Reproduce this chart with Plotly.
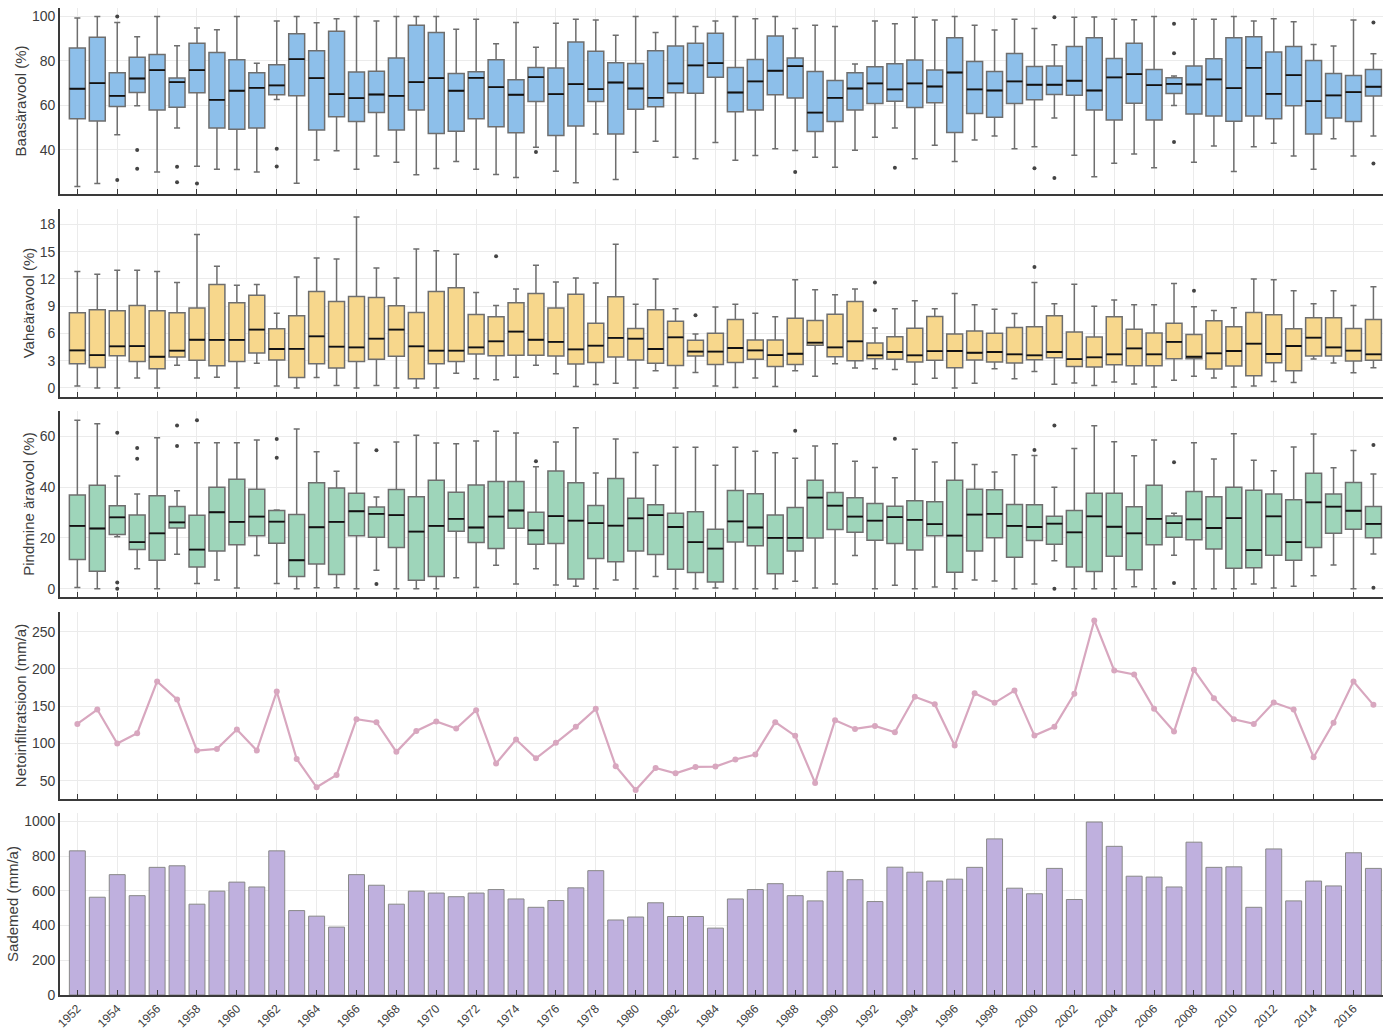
import plotly.graph_objects as go

years = list(range(1952, 2018))

# Panel 1: Baasäravool (%)
base_hi = [99.3,100,97.3,90.9,100,86.8,94.8,94,100,79,
           98,100,97.2,99,100,97.9,100,100,100,94.3,
           98.7,87.7,97.3,86.1,97,98.7,98.4,91.5,100,92.8,
           100,95.5,97.9,100,99,100,94.6,96,95.5,78.6,
           98,96.7,99.6,98.4,100,96,93.9,98.7,94.6,87.3,
           99.6,99.7,98.7,98.5,100,73.2,98.7,98.7,100,97.9,
           99,97.6,87.4,86.7,98.4,83.2]
base_q3 = [85.8,90.6,74.7,81.7,82.9,72.3,87.9,83.8,80.5,74.7,
           78.3,92.2,84.6,93.3,75,75.4,81.3,96,92.8,74.4,
           75.1,80.5,71.5,77.1,76.8,88.5,84.3,79.2,78.9,84.6,
           86.7,87.9,92.4,77.1,80.7,91.2,81.3,75.3,71.2,74.7,
           77.4,78.7,80.4,75.9,90.4,79.8,75.3,83.4,77.5,77.7,
           86.5,90.4,81.1,87.9,76.2,72.4,77.7,81,90.4,90.9,
           84,86.5,80.2,74.4,73.5,76.2]
base_med = [67.5,70,64.3,72.1,75.9,70.5,75.9,62.5,66.6,67.9,
            69,80.8,72.3,65.1,63.3,64.9,64.3,70.5,72.3,66.6,
            72.4,68.2,64.8,72.7,65.1,69.6,67.3,70.3,67.6,63.4,
            69.9,78,79,65.8,70.8,75.6,77.7,56.8,63.4,67.6,
            69.9,67.2,69.9,68.5,74.8,67.2,66.7,70.8,69.3,69.3,
            71.1,66.7,72.6,74.1,69.1,69.7,69.4,71.7,67.8,76.9,
            65.2,73.6,61.9,64.5,66,68.4]
base_q1 = [54,53,59.5,65.8,57.9,59.2,65.7,49.9,49.3,49.9,
           64.8,64.3,48.9,54.9,52.8,56.8,48.9,57.9,47.4,48.4,
           54,50.4,47.7,61.8,46.5,50.7,61.8,47.2,58.3,59.4,
           65.7,65.5,72.7,57.1,57.9,64.8,63.3,48.3,52.8,57.9,
           60.9,61.9,59.1,61.2,47.8,56.4,54.7,60.9,62.5,64.9,
           64.6,57.9,53.5,61,53.5,65.4,56.1,55.2,52.9,55.2,
           54,59.8,47.1,54.4,52.8,64.2]
base_lo = [23.5,24.9,46.8,59.8,30.1,49.8,32.7,31.3,31.2,30.1,
           62.7,25,35.5,39.6,31.3,37.3,34.5,28.8,31.6,34.8,
           31.3,28.9,27.6,41.2,30.4,25.2,47.1,26.7,39,43.9,
           36.7,36,43.3,35.4,37.5,40.5,39.7,36.7,32.2,39.9,
           45.7,49.8,36,42.1,34.8,44.4,46.2,40.5,41.4,54.4,
           37.6,27.9,34,38.2,32,60,34.5,41.8,30.3,41.4,
           43,37.3,31.3,45,37.3,46.2]
base_out_x = [1954,1954,1955,1955,1957,1957,1958,1962,1962,1975,1988,1993,2000,2001,2001,2007,2007,2007,2017,2017]
base_out_y = [100,26.5,40,31.5,32.4,25.5,24.9,40.5,32.5,39.1,30.1,32,31.8,99.6,27.4,96.7,83.5,43.5,97.3,33.9]

# Panel 2: Vaheäravool (%)
inter_hi = [12.8,12.5,12.95,12.95,12.8,11.6,16.9,13.4,11.3,11.37,
            8.23,12.2,14.3,14.2,18.8,13.2,12.1,15.3,15.1,14.7,
            10.5,9.08,10.9,13.5,11.66,12.1,11.55,15.8,9.2,12,
            8.7,5.94,8.9,9.2,8.23,7.82,11.9,10.8,10.26,10.9,
            6.6,8.7,9.6,8.7,10.4,9.15,8.67,8.19,11.6,9.26,
            11.4,9,9.67,9.15,9.15,11.5,8.93,8.52,8.82,12,
            11.9,10.7,9.26,10.7,9.08,11.14]
inter_q3 = [8.27,8.6,8.5,9.08,8.5,8.27,8.8,11.37,9.37,10.2,
            6.5,7.93,10.6,9.5,10.07,9.96,9.04,8.3,10.6,11.03,
            8.08,7.82,9.37,10.4,8.8,10.3,7.12,10.04,6.53,8.6,
            7.34,5.24,6.01,7.53,5.28,5.28,7.68,7.42,8.1,9.5,
            4.94,5.64,6.57,7.86,5.94,6.27,6.01,6.64,6.72,7.93,
            6.16,5.6,7.82,6.46,6.05,7.12,5.87,7.38,6.72,8.3,
            8.04,6.5,7.71,7.71,6.53,7.53]
inter_med = [4.13,3.6,4.58,4.6,3.43,4.1,5.3,5.28,5.28,6.42,
             4.28,4.3,5.68,4.54,4.46,5.42,6.42,4.58,4.1,4.1,
             4.46,5.13,6.2,5.3,5.06,4.24,4.65,5.5,5.42,4.28,
             5.57,4,4,4.39,4.13,3.6,3.76,4.98,4.46,5.13,
             3.58,3.95,3.58,4.04,4.06,3.87,3.95,3.69,3.58,3.95,
             3.17,3.36,3.69,4.35,3.69,5.06,3.43,3.8,4.06,4.87,
             3.73,4.61,5.53,4.46,4.1,3.69]
inter_q1 = [2.66,2.25,3.54,2.9,2.1,3.4,3.03,2.44,2.9,3.84,
            3.06,1.14,2.66,2.18,2.9,3.14,3.47,1,2.66,2.9,
            3.73,3.54,3.58,3.58,3.5,2.62,2.8,3.4,3.06,2.7,
            2.47,3.5,2.58,2.8,3.14,2.36,2.58,4.7,3.43,3,
            3.2,3.14,2.84,3.03,2.21,3.06,2.84,2.73,3.1,3.32,
            2.36,2.29,2.55,2.44,2.44,3.21,3.21,2.07,2.4,1.33,
            2.77,1.88,3.5,3.5,2.95,3.03]
inter_lo = [0.22,0,0,1.1,0,2.5,1.1,1.18,0,2.7,
            0.22,0,1.14,0.26,0,0.26,0,0,0,1.62,
            1,0.9,1.18,2.5,1.55,0.15,0.37,0.52,0,1.9,
            0,1.7,0.22,0.04,1.1,0.15,1.88,1.29,2.66,2.18,
            2.1,2.03,0.4,1.07,0,0.52,2.1,1,1.8,0.4,
            0.55,0.26,0.66,0.44,0.11,0.85,1.29,1.1,0.11,0.22,
            0.7,0.59,3.17,2.73,1.66,2.21]
inter_out_x = [1973,1983,1992,1992,2000,2008]
inter_out_y = [14.5,8.0,11.6,8.56,13.3,10.7]

# Panel 3: Pindmine äravool (%)
surf_hi = [66.4,65,44.4,37.3,59.5,38.6,57.5,57.5,57.5,58.6,
           31,62.9,53.9,46.3,57.4,36.1,57.8,60.4,57.4,57.1,
           58.2,62,61.3,48,57.8,63.4,45.6,59,53.6,48.6,
           55.7,55.7,48.6,55.7,54.1,53.5,51.4,56.2,57.1,50.2,
           47.7,43.7,54.9,49.9,57.5,48.9,46,52.8,52.5,40,
           55.2,64.2,57.9,52.4,58.6,29.7,57.5,51.1,61,50.6,
           46.5,55.8,60.9,47.6,54.4,45.2]
surf_q3 = [36.9,40.7,32.7,29,36.6,32.4,28.9,40,43.1,39.2,
           30.8,29.2,41.7,39.7,37.6,32.2,39.1,36.2,42.7,38,
           40.8,42.2,42.2,30.1,46.4,41.7,32.8,43.4,35.6,33.1,
           29.7,30.3,23.4,38.7,37.4,29,32,42.7,37.9,35.8,
           33.6,32.5,34.6,34.2,42.7,39.2,39,33.2,33.1,28.5,
           30.8,37.6,37.6,32.3,40.7,28.6,38.3,36.2,40,38.8,
           37.3,35,45.5,37.3,41.8,32.4]
surf_med = [24.7,23.7,28.1,18.3,21.8,26.1,15.4,30.1,26.3,28.4,
            26.4,11.2,24.2,26.3,30.5,29.5,29,22.5,24.7,27.5,
            24.1,28.4,30.8,23,28.6,26.8,25.8,24.8,27.7,29,
            24.3,18.3,15.8,26.5,24.1,20,20,35.9,32.7,28.4,
            26.8,28.2,27.1,25.4,20.9,29.2,29.5,24.7,24.3,25.6,
            22.2,28.5,24.4,21.8,27.5,25.8,27.3,23.9,27.8,15.2,
            28.5,18.3,34,32.3,30.7,25.5]
surf_q1 = [11.5,6.9,21.3,15.4,11.2,23.9,8.5,14.8,17.3,20.8,
           17.9,4.8,9.7,5.6,20.8,20.3,16.2,3.3,4.8,22.6,
           18.2,15.8,23.8,17.5,17.8,3.8,11.9,10.6,14.8,13.5,
           7.6,6.4,2.6,18.4,16.9,5.9,14.8,20,23.3,22.2,
           19.1,17.8,15.2,20.8,6.5,14.8,20.1,12.4,19,17.5,
           8.5,6.8,12.8,7.5,17.3,20.3,19.3,15.6,8,8.2,
           13.2,11.2,16.2,21.8,23.4,20.1]
surf_lo = [0.5,0,20.5,7.8,0,13.6,2,3.4,0.3,13.1,
           2,0,0.4,0.4,0,7.3,0,0,0,4.3,
           0.5,9.2,1.8,7.8,1.4,1,0,3.4,0,4.8,
           0,0,0.3,0,0,0,2.9,0.3,1.8,13.1,
           0,1.3,0,0.7,0,3.4,3,0,1.8,11,
           0,0,0,0.8,0,13.2,0,0,0,1.8,
           0.3,1,5.1,9.3,0,13.7]
surf_out_x = [1954,1954,1954,1955,1955,1957,1957,1958,1962,1962,1967,1967,1975,1988,1993,2000,2001,2001,2007,2007,2017,2017]
surf_out_y = [61.4,2.4,0,55.4,51.2,64.3,56.2,66.4,59,51.6,54.5,1.8,50.2,62.2,59.1,54.6,64.3,0,49.8,2.2,56.6,0.4]

# Panel 4: Netoinfiltratsioon (mm/a)
infil = [126.2,145.5,99.8,113.7,183.2,159,90.4,92.6,118.6,90.4,
         169.7,79.1,41,57.6,132.5,128.5,88.6,116.8,129.4,120,
         144.6,72.9,105.2,80,100.7,122.2,146.4,69.3,37.4,67,
         59.9,68.4,68.8,78.3,85,128.5,110.1,46.9,131.2,119.5,
         123.5,115,162.6,152.7,97.1,167.5,154.5,171.1,110.5,122.2,
         166.6,265.2,198,192.6,146.4,115.9,198.9,160.8,132.5,126.2,
         154.9,145.5,81.4,127.6,183.2,151.8]

# Panel 5: Sademed (mm/a)
precip = [830,563,693,572,735,744,523,598,650,622,
          830,486,454,391,693,632,523,598,587,566,
          587,607,553,505,544,617,716,432,449,531,
          452,452,385,553,607,641,572,542,712,664,
          538,736,707,656,667,735,899,615,583,729,
          550,996,856,684,679,622,880,735,738,505,
          841,542,656,628,819,729]

tick_years = list(range(1952, 2017, 2))

FONT = "Liberation Sans, Arial, sans-serif"
AX = "#3a3a3a"
GRID = "#ebebeb"
TXT = "#3d3d3d"

# domains (paper fractions, bottom -> top)
domains = [(0.8116, 1.0), (0.6059, 0.7964), (0.4032, 0.5917), (0.1986, 0.3880), (0.0, 0.1844)]

fig = go.Figure()

box_panels = [
    (base_q1, base_med, base_q3, base_lo, base_hi, base_out_x, base_out_y, "#8dbfea", 1),
    (inter_q1, inter_med, inter_q3, inter_lo, inter_hi, inter_out_x, inter_out_y, "#f7d78c", 2),
    (surf_q1, surf_med, surf_q3, surf_lo, surf_hi, surf_out_x, surf_out_y, "#9ed5ba", 3),
]

for q1, med, q3, lo, hi, ox, oy, col, i in box_panels:
    xa = "x" if i == 1 else f"x{i}"
    ya = "y" if i == 1 else f"y{i}"
    fig.add_trace(go.Box(
        x=years, q1=q1, median=med, q3=q3, lowerfence=lo, upperfence=hi,
        width=0.8, whiskerwidth=0.38, fillcolor=col,
        line=dict(color="#6e6e6e", width=1.5), boxpoints=False,
        xaxis=xa, yaxis=ya, showlegend=False, hoverinfo="skip"))
    fig.add_trace(go.Box(
        x=years, q1=med, median=med, q3=med, lowerfence=med, upperfence=med,
        width=0.8, whiskerwidth=0, fillcolor="rgba(0,0,0,0)",
        line=dict(color="#111111", width=1.8), boxpoints=False,
        xaxis=xa, yaxis=ya, showlegend=False, hoverinfo="skip"))
    fig.add_trace(go.Scatter(
        x=ox, y=oy, mode="markers", marker=dict(color="#444444", size=4),
        xaxis=xa, yaxis=ya, showlegend=False, hoverinfo="skip"))

fig.add_trace(go.Scatter(
    x=years, y=infil, mode="lines+markers",
    line=dict(color="#d8a7bf", width=2.2), marker=dict(color="#d8a7bf", size=6),
    xaxis="x4", yaxis="y4", showlegend=False))

fig.add_trace(go.Bar(
    x=years, y=precip, width=0.8,
    marker=dict(color="#bfb0de", line=dict(color="#888888", width=1)),
    xaxis="x5", yaxis="y5", showlegend=False))

y_specs = [
    ("Baasäravool (%)", [20.2, 103.8], 20),
    ("Vaheäravool (%)", [-1.0, 19.7], 3),
    ("Pindmine äravool (%)", [-3.3, 70], 20),
    ("Netoinfiltratsioon (mm/a)", [25.3, 276.5], 50),
    ("Sademed (mm/a)", [0, 1048], 200),
]

layout = dict(
    width=1383, height=1030,
    margin=dict(l=60, r=0, t=8, b=35),
    plot_bgcolor="white", paper_bgcolor="white",
    boxmode="overlay", barmode="overlay",
    font=dict(family=FONT, size=14, color=TXT),
    showlegend=False,
)

for i in range(1, 6):
    xk = "xaxis" if i == 1 else f"xaxis{i}"
    yk = "yaxis" if i == 1 else f"yaxis{i}"
    ya = "y" if i == 1 else f"y{i}"
    xa = "x" if i == 1 else f"x{i}"
    title, rng, dt = y_specs[i - 1]
    layout[xk] = dict(
        domain=[0, 1], anchor=ya, range=[1951.13, 2017.48], automargin=False,
        tickmode="array", tickvals=tick_years, ticktext=[str(t) for t in tick_years],
        showticklabels=(i == 5), tickangle=-45,
        ticks="inside", ticklen=5, tickwidth=1.2, tickcolor=AX,
        showline=True, linecolor=AX, linewidth=1.6,
        showgrid=True, gridcolor=GRID, gridwidth=1, zeroline=False,
        tickfont=dict(size=12, color=TXT),
    )
    if i != 1:
        layout[xk]["matches"] = "x"
    layout[yk] = dict(
        domain=list(domains[i - 1]), anchor=xa, range=rng, automargin=False,
        tickmode="linear", dtick=dt, tick0=0,
        showline=True, linecolor=AX, linewidth=1.6, ticks="",
        showgrid=True, gridcolor=GRID, gridwidth=1, zeroline=False,
        tickfont=dict(size=14, color=TXT),
        title=dict(text=title, font=dict(size=15, color=TXT), standoff=2),
    )

fig.update_layout(**layout)

fig.write_html("out.html", config={"displayModeBar": False},
               post_script="document.body.style.margin='0';")
